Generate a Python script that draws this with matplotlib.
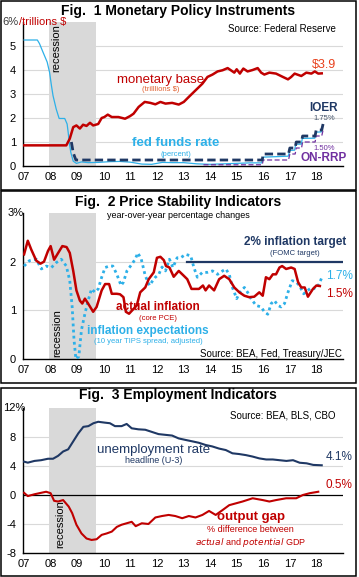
import matplotlib
matplotlib.use('Agg')
import matplotlib.pyplot as plt
from matplotlib.patches import Rectangle

plt.rcParams['font.family'] = ['Liberation Sans Narrow', 'Liberation Sans', 'DejaVu Sans']
plt.rcParams['mathtext.fontset'] = 'custom'
plt.rcParams['mathtext.rm'] = 'Liberation Sans Narrow'
plt.rcParams['mathtext.it'] = 'Liberation Sans Narrow:italic'

# ---------------- data ----------------
years = list(range(2007, 2019))
year_labels = ['07', '08', '09', '10', '11', '12', '13', '14', '15', '16', '17', '18']
recession = (2007.93, 2009.70)

# Fig 1
fed_x = [2007.0, 2007.5, 2007.58, 2007.71, 2007.87, 2007.96, 2008.03, 2008.09, 2008.21, 2008.32,
         2008.53, 2008.62, 2008.66, 2008.70, 2008.76, 2008.85, 2008.97, 2009.16, 2009.41, 2009.8,
         2010.2, 2010.6, 2011.0, 2011.43, 2011.8, 2012.2, 2012.6, 2013.0, 2013.5, 2014.0, 2014.5,
         2015.0, 2015.5, 2015.94, 2016.0, 2016.5, 2016.94, 2017.0, 2017.18, 2017.22, 2017.43,
         2017.47, 2017.94, 2017.98, 2018.18, 2018.22]
fed_y = [5.25, 5.25, 5.1, 4.75, 4.33, 3.9, 3.35, 2.93, 2.37, 1.98,
         1.98, 1.75, 1.4, 0.98, 0.56, 0.2, 0.11, 0.17, 0.14, 0.15,
         0.18, 0.19, 0.16, 0.08, 0.07, 0.15, 0.14, 0.14, 0.09, 0.07, 0.09,
         0.11, 0.13, 0.13, 0.37, 0.39, 0.41, 0.65, 0.66, 0.91, 0.91,
         1.15, 1.16, 1.41, 1.42, 1.6]

base_x = [2007.0, 2008.59, 2008.72, 2008.85, 2008.97, 2009.10, 2009.22, 2009.35, 2009.48, 2009.60,
          2009.79, 2009.92, 2010.02, 2010.15, 2010.30, 2010.55, 2010.80, 2010.99, 2011.12, 2011.31,
          2011.54, 2011.75, 2011.94, 2012.13, 2012.32, 2012.57, 2012.82, 2013.01, 2013.20, 2013.45,
          2013.71, 2013.90, 2014.09, 2014.28, 2014.47, 2014.66, 2014.78, 2014.91, 2015.00, 2015.12,
          2015.25, 2015.41, 2015.60, 2015.79, 2015.92, 2016.04, 2016.23, 2016.48, 2016.74, 2016.93,
          2017.05, 2017.18, 2017.43, 2017.62, 2017.81, 2017.94, 2018.07, 2018.20]
base_y = [0.86, 0.86, 1.14, 1.62, 1.69, 1.56, 1.72, 1.67, 1.80, 1.69,
          1.75, 2.00, 2.04, 2.14, 2.04, 2.04, 1.97, 2.08, 2.18, 2.46,
          2.67, 2.63, 2.57, 2.67, 2.60, 2.63, 2.56, 2.67, 2.88, 3.15,
          3.43, 3.71, 3.81, 3.94, 3.99, 4.08, 3.99, 3.89, 4.03, 3.85,
          4.06, 3.94, 4.00, 4.08, 3.89, 3.81, 3.89, 3.85, 3.71, 3.61,
          3.71, 3.85, 3.75, 3.89, 3.85, 3.94, 3.85, 3.86]

ioer_x = [2008.78, 2008.85, 2008.95, 2015.96, 2016.0, 2016.95, 2017.0, 2017.2, 2017.24,
          2017.44, 2017.48, 2017.95, 2017.99, 2018.2, 2018.25]
ioer_y = [1.0, 0.55, 0.25, 0.25, 0.5, 0.5, 0.75, 0.75, 1.0,
          1.0, 1.25, 1.25, 1.5, 1.5, 1.75]

rrp_x = [2013.75, 2015.96, 2016.0, 2016.95, 2017.0, 2017.2, 2017.24, 2017.44, 2017.48,
         2017.95, 2017.99, 2018.2, 2018.25]
rrp_y = [0.05, 0.05, 0.25, 0.25, 0.5, 0.5, 0.75, 0.75, 1.0,
         1.0, 1.25, 1.25, 1.5]

# Fig 2
pce_x = [2007.0, 2007.14, 2007.27, 2007.46, 2007.62, 2007.75, 2007.90, 2008.00, 2008.13, 2008.25,
         2008.44, 2008.60, 2008.72, 2008.85, 2008.97, 2009.10, 2009.19, 2009.29, 2009.41, 2009.60,
         2009.73, 2009.92, 2010.05, 2010.20, 2010.30, 2010.49, 2010.61, 2010.74, 2010.83, 2010.95,
         2011.12, 2011.24, 2011.37, 2011.56, 2011.69, 2011.88, 2012.00, 2012.13, 2012.26, 2012.34,
         2012.47, 2012.63, 2012.82, 2013.01, 2013.14, 2013.30, 2013.58, 2013.73, 2013.83, 2013.96,
         2014.15, 2014.34, 2014.53, 2014.72, 2014.91, 2015.10, 2015.29, 2015.47, 2015.66, 2015.85,
         2015.98, 2016.10, 2016.23, 2016.36, 2016.48, 2016.61, 2016.71, 2016.86, 2017.05, 2017.18,
         2017.31, 2017.43, 2017.56, 2017.68, 2017.87, 2018.00, 2018.13]
pce_y = [2.15, 2.43, 2.25, 2.02, 1.96, 2.00, 2.22, 2.32, 2.04, 2.15,
         2.32, 2.30, 2.18, 1.81, 1.41, 1.20, 1.14, 1.24, 1.14, 0.97,
         1.07, 1.41, 1.54, 1.54, 1.34, 1.34, 1.33, 1.27, 0.97, 0.93,
         1.03, 1.10, 1.37, 1.47, 1.64, 1.78, 2.08, 2.10, 2.03, 1.91,
         1.88, 1.69, 1.81, 1.71, 1.64, 1.44, 1.44, 1.51, 1.41, 1.51,
         1.41, 1.64, 1.71, 1.64, 1.47, 1.37, 1.30, 1.27, 1.28, 1.37,
         1.30, 1.68, 1.64, 1.74, 1.74, 1.88, 1.91, 1.85, 1.88, 1.85,
         1.58, 1.47, 1.47, 1.28, 1.44, 1.51, 1.50]

tips_x = [2007.0, 2007.20, 2007.46, 2007.65, 2007.84, 2008.03, 2008.21, 2008.40, 2008.59, 2008.72,
          2008.81, 2008.88, 2008.95, 2009.06, 2009.16, 2009.29, 2009.41, 2009.54, 2009.67, 2009.79,
          2009.92, 2010.05, 2010.21, 2010.34, 2010.49, 2010.65, 2010.74, 2010.87, 2011.06, 2011.18,
          2011.28, 2011.41, 2011.56, 2011.72, 2011.84, 2011.94, 2012.07, 2012.19, 2012.32, 2012.47,
          2012.60, 2012.76, 2012.89, 2013.08, 2013.27, 2013.39, 2013.52, 2013.71, 2013.90, 2014.09,
          2014.28, 2014.47, 2014.59, 2014.72, 2014.84, 2015.00, 2015.12, 2015.29, 2015.41, 2015.54,
          2015.73, 2015.92, 2016.04, 2016.17, 2016.30, 2016.42, 2016.55, 2016.67, 2016.80, 2016.93,
          2017.09, 2017.24, 2017.36, 2017.52, 2017.68, 2017.81, 2017.97, 2018.10, 2018.23]
tips_y = [1.91, 2.02, 2.05, 1.85, 1.91, 1.88, 1.98, 2.05, 1.91, 1.61,
          1.07, 0.39, 0.00, 0.05, 0.60, 0.93, 1.20, 1.44, 1.37, 1.44,
          1.68, 1.88, 1.91, 1.91, 1.74, 1.51, 1.58, 1.81, 1.95, 2.05,
          2.18, 2.05, 1.71, 1.51, 1.61, 1.68, 1.74, 1.89, 1.81, 2.05,
          1.88, 2.08, 2.08, 2.15, 2.12, 1.88, 1.68, 1.78, 1.78, 1.81,
          1.74, 1.81, 1.85, 1.74, 1.47, 1.24, 1.37, 1.47, 1.37, 1.24,
          1.10, 1.07, 0.97, 0.92, 1.14, 1.20, 1.10, 1.07, 1.14, 1.37,
          1.61, 1.58, 1.51, 1.34, 1.41, 1.47, 1.44, 1.54, 1.71]

target_x = [2013.12, 2019.0]
target_y = [2.0, 2.0]

# Fig 3
unemp_x = [2007.0, 2007.14, 2007.39, 2007.64, 2007.90, 2008.09, 2008.28, 2008.47, 2008.66, 2008.85,
           2009.04, 2009.23, 2009.42, 2009.61, 2009.79, 2010.04, 2010.23, 2010.42, 2010.67, 2010.86,
           2011.05, 2011.30, 2011.56, 2011.81, 2012.06, 2012.31, 2012.57, 2012.82, 2013.07, 2013.33,
           2013.58, 2013.83, 2014.08, 2014.34, 2014.59, 2014.84, 2015.09, 2015.35, 2015.60, 2015.85,
           2016.11, 2016.36, 2016.61, 2016.87, 2017.12, 2017.37, 2017.63, 2017.88, 2018.20]
unemp_y = [4.6, 4.46, 4.7, 4.8, 5.0, 5.0, 5.4, 6.0, 6.3, 7.4,
           8.5, 9.4, 9.5, 9.9, 10.1, 9.98, 9.9, 9.5, 9.5, 9.8,
           9.2, 9.06, 9.0, 8.7, 8.4, 8.3, 8.2, 7.8, 7.6, 7.4,
           7.2, 6.9, 6.7, 6.4, 6.2, 5.75, 5.65, 5.5, 5.3, 5.05,
           4.9, 4.9, 4.8, 4.7, 4.8, 4.45, 4.37, 4.15, 4.1]

gap_x = [2007.0, 2007.14, 2007.39, 2007.64, 2007.83, 2008.00, 2008.13, 2008.28, 2008.47, 2008.68,
         2008.81, 2008.97, 2009.16, 2009.35, 2009.54, 2009.73, 2009.92, 2010.11, 2010.30, 2010.49,
         2010.67, 2010.86, 2011.05, 2011.20, 2011.43, 2011.68, 2011.94, 2012.19, 2012.44, 2012.69,
         2012.95, 2013.20, 2013.45, 2013.71, 2013.96, 2014.21, 2014.46, 2014.72, 2014.97, 2015.22,
         2015.60, 2015.98, 2016.23, 2016.48, 2016.86, 2017.24, 2017.49, 2017.75, 2018.07]
gap_y = [0.3, -0.15, 0.1, 0.3, 0.45, 0.25, -0.8, -0.9, -0.7, -1.6,
         -2.5, -4.1, -5.3, -6.0, -6.2, -6.1, -5.5, -5.3, -5.05, -4.4,
         -4.1, -3.9, -3.7, -4.3, -3.9, -4.0, -3.1, -2.9, -2.75, -2.9,
         -3.2, -2.9, -3.1, -2.75, -2.2, -2.75, -2.1, -1.4, -1.15, -0.9,
         -0.45, -0.7, -0.9, -0.7, -0.45, -0.45, 0.0, 0.25, 0.45]

# ---------------- colours ----------------
RED = '#C00000'
BLUE = '#2DB0E8'
NAVY = '#1F3864'
PURPLE = '#7030A0'
GRID = '#D9D9D9'
TICKFONT = ['Liberation Sans', 'DejaVu Sans']

W, H = 359, 577
fig = plt.figure(figsize=(W / 100, H / 100), dpi=100)


def fx(x):
    return x / W


def fy(y):
    return 1 - y / H


def panel_axes(top, bottom, ylim, yticks, ytick_labels, grid_vals):
    ax = fig.add_axes([fx(23), fy(bottom), (343 - 23) / W, (bottom - top) / H])
    ax.set_xlim(2006.96, 2019.0)
    ax.set_ylim(*ylim)
    ax.axvspan(*recession, color=GRID, lw=0, zorder=0)
    for g in grid_vals:
        ax.axhline(g, color=GRID, lw=0.8, zorder=0.5)
    for s in ['top', 'right']:
        ax.spines[s].set_visible(False)
    ax.spines['left'].set_linewidth(1.0)
    ax.spines['bottom'].set_linewidth(1.0)
    ax.set_xticks(years)
    ax.set_xticklabels(year_labels, fontsize=8, family=TICKFONT)
    ax.set_yticks(yticks)
    ax.set_yticklabels(ytick_labels, fontsize=8, family=TICKFONT)
    ax.tick_params(length=0, pad=4)
    ax.tick_params(axis='y', pad=5)
    return ax


# panel frames
for top, bottom in [(1, 190), (191, 383), (388, 576)]:
    fig.add_artist(Rectangle((fx(1), fy(bottom)), (356 - 1) / W, (bottom - top) / H,
                             transform=fig.transFigure, fill=False, lw=1.1, ec='black'))

title_kw = dict(ha='center', va='center', fontsize=10, fontweight='bold')
fig.text(fx(178), fy(11), 'Fig.  1 Monetary Policy Instruments', **title_kw)
fig.text(fx(178), fy(202), 'Fig.  2 Price Stability Indicators', **title_kw)
fig.text(fx(178), fy(395), 'Fig.  3 Employment Indicators', **title_kw)

# ---------------- Fig 1 ----------------
ax1 = panel_axes(22, 166, (0, 6), [0, 1, 2, 3, 4, 5], ['0', '1', '2', '3', '4', '5'], [1, 2, 3, 4, 5])
ax1.plot(fed_x, fed_y, color=BLUE, lw=0.9, zorder=3)
ax1.plot(rrp_x, rrp_y, color=PURPLE, lw=0.9, ls=(0, (4, 2)), zorder=3)
ax1.plot(ioer_x, ioer_y, color=NAVY, lw=2.0, ls=(0, (3, 1.5)), zorder=4)
ax1.plot(base_x, base_y, color=RED, lw=1.8, zorder=5)

fig.text(fx(2), fy(22), '6%', fontsize=8, color='#3A3A3A', va='center', family=TICKFONT)
fig.text(fx(19), fy(22), '/trillions $', fontsize=8, color=RED, va='center', family=TICKFONT)
ax1.text(2018.75, 5.7, 'Source: Federal Reserve', fontsize=7, ha='right', va='center')
ax1.text(2008.2, 5.9, 'recession', rotation=90, fontsize=8, ha='center', va='top')
ax1.text(2012.15, 3.58, 'monetary base', fontsize=9.5, color=RED, ha='center', va='center')
ax1.text(2012.15, 3.17, '(trilllions $)', fontsize=5.5, color='#E06030', ha='center', va='center')
ax1.text(2018.28, 4.2, '$3.9', fontsize=9, color='#E8401C', ha='center', va='center')
ax1.text(2012.7, 0.96, 'fed funds rate', fontsize=9.5, color=BLUE, fontweight='bold', ha='center', va='center')
ax1.text(2012.7, 0.5, '(percent)', fontsize=5.5, color=BLUE, ha='center', va='center')
ax1.text(2018.28, 2.42, 'IOER', fontsize=8.5, color=NAVY, fontweight='bold', ha='center', va='center')
ax1.text(2018.28, 2.0, '1.75%', fontsize=5.5, color='#44546A', ha='center', va='center')
ax1.text(2018.28, 0.75, '1.50%', fontsize=5.5, color=PURPLE, ha='center', va='center')
ax1.text(2018.28, 0.33, 'ON-RRP', fontsize=8.5, color=PURPLE, fontweight='bold', ha='center', va='center')

# ---------------- Fig 2 ----------------
ax2 = panel_axes(213, 359, (0, 3), [0, 1, 2], ['0', '1', '2'], [1, 2])
ax2.plot(tips_x, tips_y, color=BLUE, lw=2.0, ls=(0, (1, 1.2)), zorder=3)
ax2.plot(pce_x, pce_y, color=RED, lw=1.8, zorder=4)
ax2.plot(target_x, target_y, color=NAVY, lw=1.6, zorder=4)
fig.text(fx(8), fy(213), '3%', fontsize=8, va='center', family=TICKFONT)

ax2.text(2012.8, 2.94, 'year-over-year percentage changes', fontsize=6.5, ha='center', va='center')
ax2.text(2017.2, 2.41, '2% inflation target', fontsize=8.5, color=NAVY, fontweight='bold', ha='center', va='center')
ax2.text(2017.2, 2.16, '(FOMC target)', fontsize=5.5, color=NAVY, ha='center', va='center')
ax2.text(2012.03, 1.07, 'actual inflation', fontsize=8.5, color=RED, fontweight='bold', ha='center', va='center')
ax2.text(2012.03, 0.84, '(core PCE)', fontsize=5.5, color=RED, ha='center', va='center')
ax2.text(2011.66, 0.58, 'inflation expectations', fontsize=8.5, color=BLUE, fontweight='bold', ha='center', va='center')
ax2.text(2011.66, 0.35, '(10 year TIPS spread, adjusted)', fontsize=5.5, color=BLUE, ha='center', va='center')
ax2.text(2018.35, 1.71, '1.7%', fontsize=8.5, color=BLUE, ha='left', va='center')
ax2.text(2018.35, 1.34, '1.5%', fontsize=8.5, color=RED, ha='left', va='center')
ax2.text(2018.95, 0.1, 'Source: BEA, Fed, Treasury/JEC', fontsize=7, ha='right', va='center')
ax2.text(2008.23, 0.04, 'recession', rotation=90, fontsize=8, ha='center', va='bottom')

# ---------------- Fig 3 ----------------
ax3 = panel_axes(408, 553, (-8, 12), [-8, -4, 0, 4, 8], ['-8', '-4', '0', '4', '8'], [-4, 4, 8])
ax3.axhline(0, color='black', lw=0.9, zorder=1)
ax3.plot(unemp_x, unemp_y, color=NAVY, lw=1.5, zorder=3)
ax3.plot(gap_x, gap_y, color=RED, lw=1.5, zorder=3)
fig.text(fx(3), fy(408), '12%', fontsize=8, va='center', family=TICKFONT)

ax3.text(2018.7, 11.0, 'Source: BEA, BLS, CBO', fontsize=7, ha='right', va='center')
ax3.text(2011.89, 6.2, 'unemployment rate', fontsize=9.5, color=NAVY, ha='center', va='center')
ax3.text(2011.89, 4.8, 'headline (U-3)', fontsize=6.5, color=NAVY, ha='center', va='center')
ax3.text(2018.35, 5.2, '4.1%', fontsize=8.5, color=NAVY, ha='left', va='center')
ax3.text(2018.35, 1.4, '0.5%', fontsize=8.5, color=RED, ha='left', va='center')
ax3.text(2015.53, -3.0, 'output gap', fontsize=9.5, color=RED, fontweight='bold', ha='center', va='center')
ax3.text(2015.53, -4.8, '% difference between', fontsize=6.5, color=RED, ha='center', va='center')
ax3.text(2015.53, -6.5, r'$\it{actual}$ and $\it{potential}$ GDP', fontsize=6.5, color=RED,
         ha='center', va='center')
ax3.text(2008.35, -7.3, 'recession', rotation=90, fontsize=8, ha='center', va='bottom')

fig.savefig('out.png', dpi=100)
